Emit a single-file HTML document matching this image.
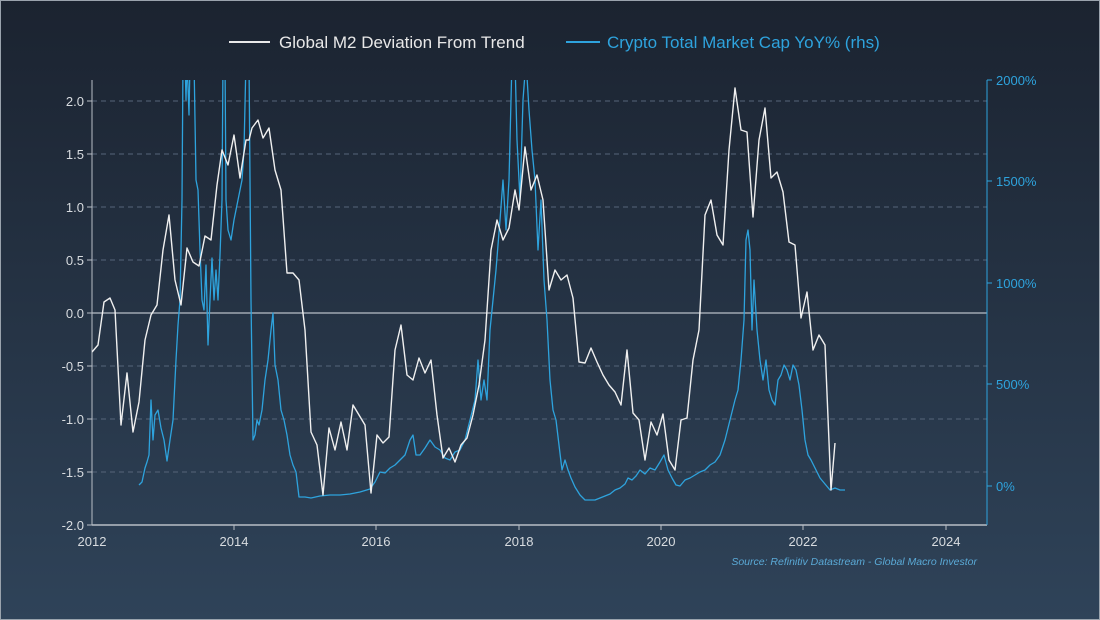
<!DOCTYPE html>
<html><head><meta charset="utf-8"><style>
html,body{margin:0;padding:0;}
body{width:1100px;height:620px;overflow:hidden;background:linear-gradient(#1b2330,#2f4359);font-family:"Liberation Sans",sans-serif;}
</style></head><body>
<svg width="1100" height="620" xmlns="http://www.w3.org/2000/svg" style="position:absolute;left:0;top:0">
<rect x="0.5" y="0.5" width="1099" height="619" fill="none" stroke="#9aa3ad" stroke-width="1"/>
<g font-size="17">
<line x1="229" y1="42" x2="270" y2="42" stroke="#e8e8e8" stroke-width="2"/>
<text x="279" y="48" fill="#e8e8e8">Global M2 Deviation From Trend</text>
<line x1="566" y1="42" x2="600" y2="42" stroke="#2ea3dd" stroke-width="2"/>
<text x="607" y="48" fill="#2ea3dd">Crypto Total Market Cap YoY% (rhs)</text>
</g>
<g stroke="#56657a" stroke-dasharray="5,4" stroke-width="1">
<line x1="92" y1="101" x2="987" y2="101"/><line x1="92" y1="154" x2="987" y2="154"/>
<line x1="92" y1="207" x2="987" y2="207"/><line x1="92" y1="260" x2="987" y2="260"/>
<line x1="92" y1="366" x2="987" y2="366"/><line x1="92" y1="419" x2="987" y2="419"/>
<line x1="92" y1="472" x2="987" y2="472"/>
</g>
<line x1="92" y1="313" x2="987" y2="313" stroke="#b8bec6" stroke-width="1.3"/>
<line x1="92" y1="80" x2="92" y2="525" stroke="#b8bec6"/>
<line x1="92" y1="525" x2="987" y2="525" stroke="#b8bec6" stroke-width="1.5"/>
<line x1="987" y1="80" x2="987" y2="525" stroke="#2ea3dd"/>
<g fill="#d8dce0" font-size="13" text-anchor="end">
<text x="84" y="106">2.0</text><text x="84" y="159">1.5</text><text x="84" y="212">1.0</text>
<text x="84" y="265">0.5</text><text x="84" y="318">0.0</text><text x="84" y="371">-0.5</text>
<text x="84" y="424">-1.0</text><text x="84" y="477">-1.5</text><text x="84" y="530">-2.0</text>
</g>
<g stroke="#b8bec6"><line x1="87" y1="101" x2="92" y2="101"/><line x1="87" y1="154" x2="92" y2="154"/><line x1="87" y1="207" x2="92" y2="207"/><line x1="87" y1="260" x2="92" y2="260"/><line x1="87" y1="313" x2="92" y2="313"/><line x1="87" y1="366" x2="92" y2="366"/><line x1="87" y1="419" x2="92" y2="419"/><line x1="87" y1="472" x2="92" y2="472"/><line x1="87" y1="525" x2="92" y2="525"/>
<line x1="234" y1="525" x2="234" y2="530"/><line x1="376" y1="525" x2="376" y2="530"/><line x1="519" y1="525" x2="519" y2="530"/><line x1="661" y1="525" x2="661" y2="530"/><line x1="803" y1="525" x2="803" y2="530"/><line x1="946" y1="525" x2="946" y2="530"/></g>
<g stroke="#2ea3dd"><line x1="987" y1="80" x2="992" y2="80"/><line x1="987" y1="181" x2="992" y2="181"/><line x1="987" y1="283" x2="992" y2="283"/><line x1="987" y1="384" x2="992" y2="384"/><line x1="987" y1="486" x2="992" y2="486"/></g>
<g fill="#2ea3dd" font-size="13">
<text x="996" y="85">2000%</text><text x="996" y="186">1500%</text><text x="996" y="288">1000%</text>
<text x="996" y="389">500%</text><text x="996" y="491">0%</text>
</g>
<g fill="#d8dce0" font-size="13" text-anchor="middle">
<text x="92" y="546">2012</text><text x="234" y="546">2014</text><text x="376" y="546">2016</text>
<text x="519" y="546">2018</text><text x="661" y="546">2020</text><text x="803" y="546">2022</text><text x="946" y="546">2024</text>
</g>
<text x="977" y="565" fill="#5aa9d6" font-size="10.5" font-style="italic" text-anchor="end">Source: Refinitiv Datastream - Global Macro Investor</text>
<svg x="92" y="80" width="895" height="445" viewBox="92 80 895 445" overflow="hidden">
<polyline fill="none" stroke="#2ea3dd" stroke-width="1.3" stroke-linejoin="round" points="139,485 142,482 145,468 147,462 149,455 151,400 153,440 155,415 158,410 161,428 164,440 167,461 170,440 173,420 176,360 178,325 180,300 182,200 183,60 185,60 186,100 187,60 189,115 190,60 192,60 194,60 196,180 198,190 200,250 202,300 204,310 206,265 208,345 210,300 212,258 214,300 216,270 218,300 220,255 222,200 223,60 225,60 226,200 228,230 231,240 234,220 238,200 242,180 244,150 246,60 249,60 251,300 253,440 255,435 257,420 259,425 262,410 265,380 268,360 271,330 273,313 275,365 278,380 281,410 284,420 287,435 290,455 293,465 296,472 299,497 305,497 311,498 320,496 330,495 340,495 350,494 360,492 370,489 375,482 380,472 385,473 390,468 395,465 400,460 405,455 410,440 413,435 416,455 420,455 425,448 430,440 435,447 440,450 445,458 450,460 455,452 460,450 465,440 470,420 475,400 478,360 481,400 484,380 487,400 490,330 493,300 496,270 500,220 503,180 506,230 509,180 512,60 515,60 517,140 520,200 523,100 526,60 529,110 532,150 535,180 538,250 541,200 544,280 547,320 550,380 553,410 556,420 559,445 562,470 565,460 568,470 571,478 575,487 580,495 585,500 590,500 595,500 600,498 605,496 610,494 615,490 620,488 625,484 628,478 632,480 636,476 640,470 645,474 650,468 655,470 660,462 664,455 668,470 672,478 676,485 680,486 685,480 690,478 695,475 700,472 705,470 710,465 715,462 720,455 725,440 730,420 735,400 738,390 741,360 744,320 746,240 748,230 750,250 752,330 754,280 757,330 760,360 763,380 766,360 769,390 772,400 775,405 778,380 781,375 784,365 787,370 790,380 793,365 796,370 799,385 802,410 805,440 808,455 811,460 815,468 820,478 825,484 830,490 835,488 840,490 845,490"/>
<polyline fill="none" stroke="#f0f0f0" stroke-width="1.4" stroke-linejoin="round" points="92,352 98,345 104,302 110,298 115,310 121,425 127,373 133,432 139,402 145,340 151,315 157,305 163,250 169,215 175,280 181,305 187,248 193,262 199,266 205,236 211,240 217,185 222,150 228,165 234,135 240,178 246,140 249,140 252,128 258,120 263,138 269,128 275,170 281,190 287,273 293,273 299,280 305,330 311,432 317,445 323,495 329,428 335,450 341,422 347,450 353,405 359,415 365,425 371,493 377,435 383,443 389,437 395,350 401,325 407,375 413,380 419,358 425,373 431,360 437,415 443,458 449,448 455,462 461,445 467,438 473,415 479,385 485,340 491,250 497,220 503,240 509,228 515,190 519,210 525,147 531,190 537,175 543,200 549,290 555,270 561,280 567,275 573,298 579,362 585,363 591,348 597,362 603,375 609,385 615,392 621,405 627,350 633,413 639,420 645,460 651,422 657,435 663,414 669,460 675,470 681,420 687,418 693,360 699,330 705,215 711,200 717,235 723,245 729,150 735,88 741,130 747,132 753,217 759,140 765,108 771,178 777,172 783,192 789,242 795,245 801,318 807,292 813,350 819,335 825,345 831,490 835,443"/>
</svg>
</svg>
</body></html>
